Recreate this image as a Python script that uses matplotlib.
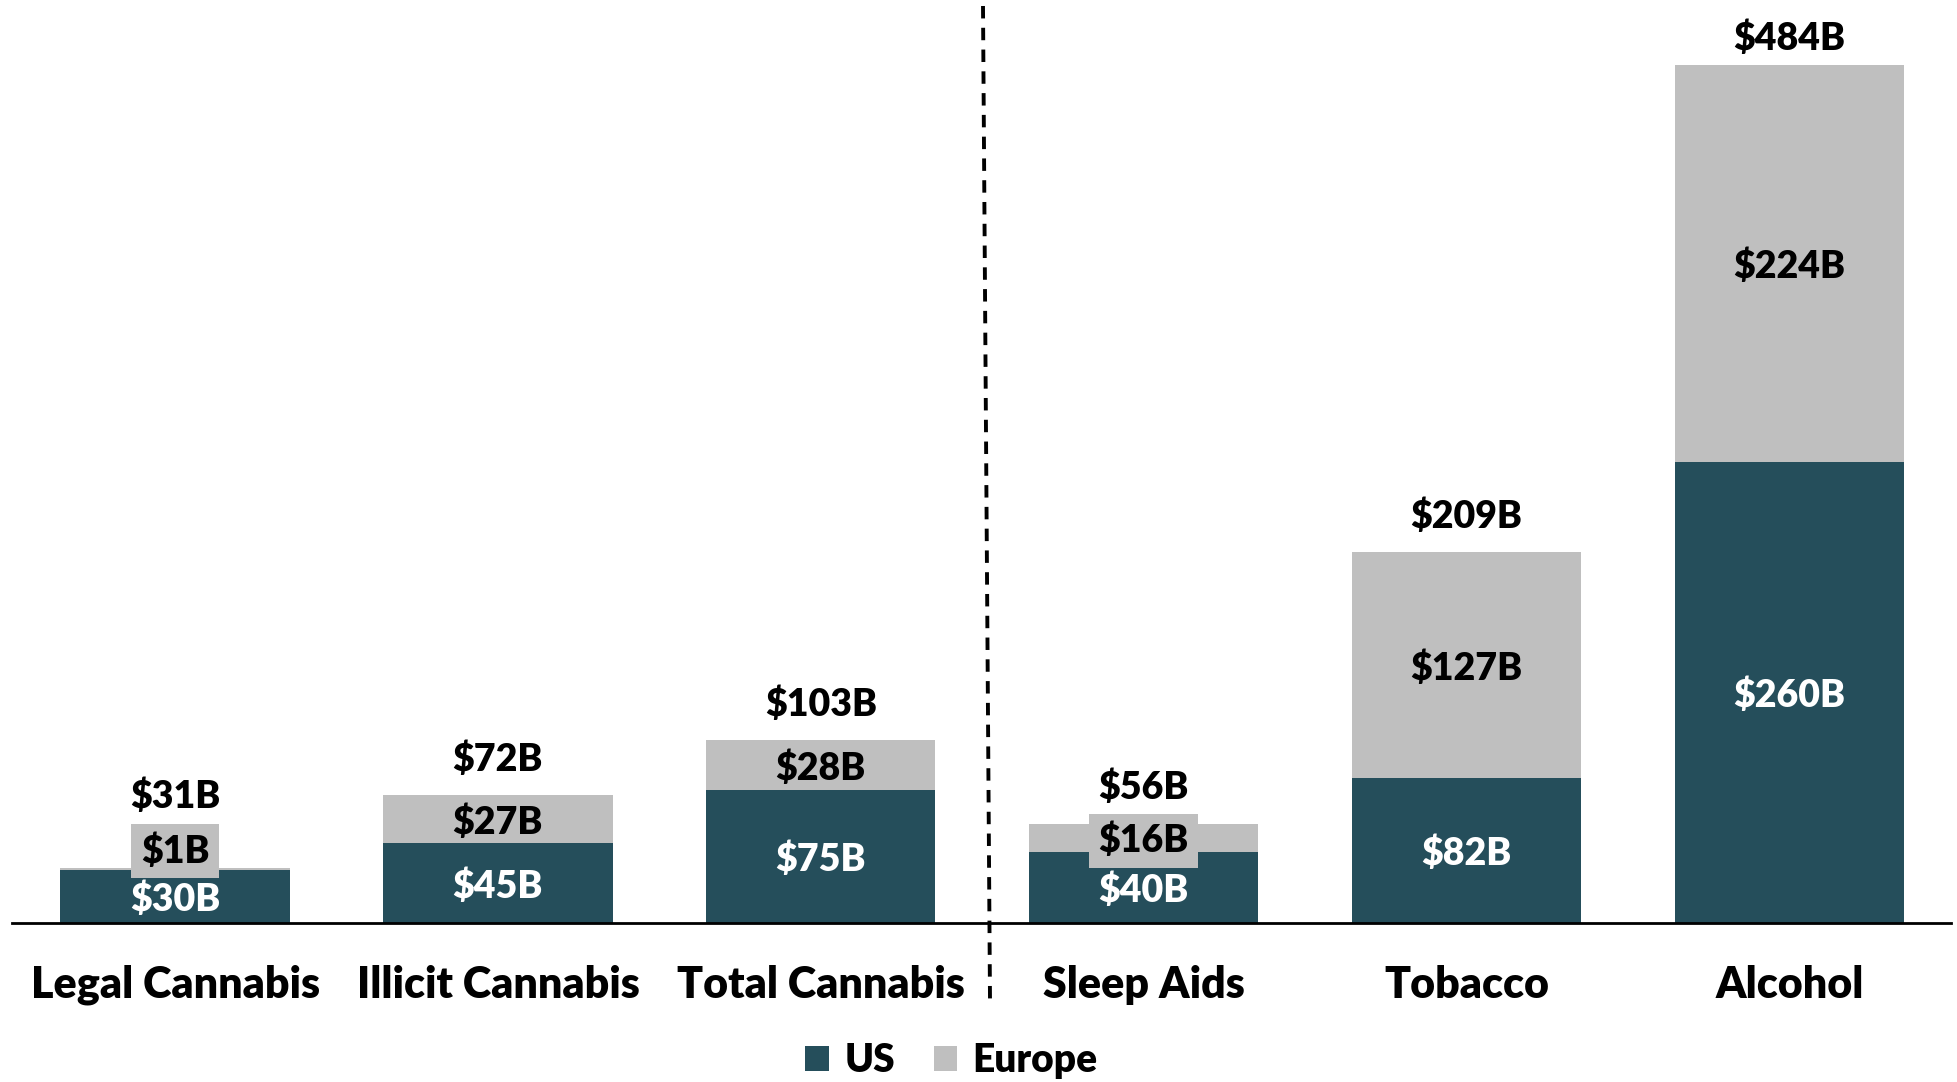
import matplotlib
matplotlib.use('Agg')
import matplotlib.pyplot as plt
from matplotlib.patches import Patch
from matplotlib.lines import Line2D
import numpy as np

categories = ['Legal Cannabis', 'Illicit Cannabis', 'Total Cannabis', 'Sleep Aids', 'Tobacco', 'Alcohol']
us = [30, 45, 75, 40, 82, 260]
europe = [1, 27, 28, 16, 127, 224]
totals = [31, 72, 103, 56, 209, 484]

us_color = '#254E5B'
eu_color = '#BFBFBF'

plt.rcParams['font.family'] = ['Lato', 'DejaVu Sans']
W = 'heavy'

fig = plt.figure(figsize=(19.58, 10.82), dpi=100)
ax = fig.add_axes([12 / 1958, 1 - 923 / 1082, (1951 - 12) / 1958, 923 / 1082])

x = np.arange(len(categories))
width = 0.71
ax.bar(x, us, width, color=us_color)
ax.bar(x, europe, width, bottom=us, color=eu_color)

ax.set_xlim(-0.505, 5.5)
ax.set_ylim(0, 520.6)
for s in ['top', 'right', 'left']:
    ax.spines[s].set_visible(False)
ax.spines['bottom'].set_linewidth(2)
ax.set_yticks([])
ax.set_xticks(x)
ax.set_xticklabels(categories, fontsize=31, fontweight=W)
ax.tick_params(axis='x', length=0, pad=30)

fs = 27
total_offsets = [52, 26, 26, 26, 26, 19]
for i in range(len(categories)):
    ax.annotate(f'${us[i]}B', (x[i], us[i] / 2), xytext=(0, -2), textcoords='offset points',
                ha='center', va='center', color='white', fontsize=fs, fontweight=W)
    if europe[i] < 20:
        ypos = us[i] + europe[i] / 2 if i else totals[i] + 11
        ax.annotate(f'${europe[i]}B', (x[i], ypos), xytext=(0, -2), textcoords='offset points',
                    ha='center', va='center', color='black', fontsize=fs, fontweight=W,
                    bbox=dict(facecolor=eu_color, edgecolor='none',
                              boxstyle='square,pad=0.25'))
    else:
        ax.annotate(f'${europe[i]}B', (x[i], us[i] + europe[i] / 2), xytext=(0, -2),
                    textcoords='offset points', ha='center', va='center',
                    color='black', fontsize=fs, fontweight=W)
    ax.annotate(f'${totals[i]}B', (x[i], totals[i]), xytext=(0, total_offsets[i]),
                textcoords='offset points', ha='center', va='center',
                fontsize=fs, fontweight=W, annotation_clip=False)

# dashed divider between cannabis and other categories
fig.add_artist(Line2D([983 / 1958, 990 / 1958], [1 - 6 / 1082, 1 - 1000 / 1082],
                      transform=fig.transFigure, color='black', lw=2.8,
                      dashes=(3.2, 2.4)))

handles = [Patch(facecolor=us_color, label='US'), Patch(facecolor=eu_color, label='Europe')]
fig.legend(handles=handles, loc='lower center', ncol=2, frameon=False,
           bbox_to_anchor=(0.486, -0.03), prop={'size': 28, 'weight': W},
           handlelength=0.6, handleheight=0.6, handletextpad=0.4, columnspacing=1.0)

fig.savefig('out.png', dpi=100)
